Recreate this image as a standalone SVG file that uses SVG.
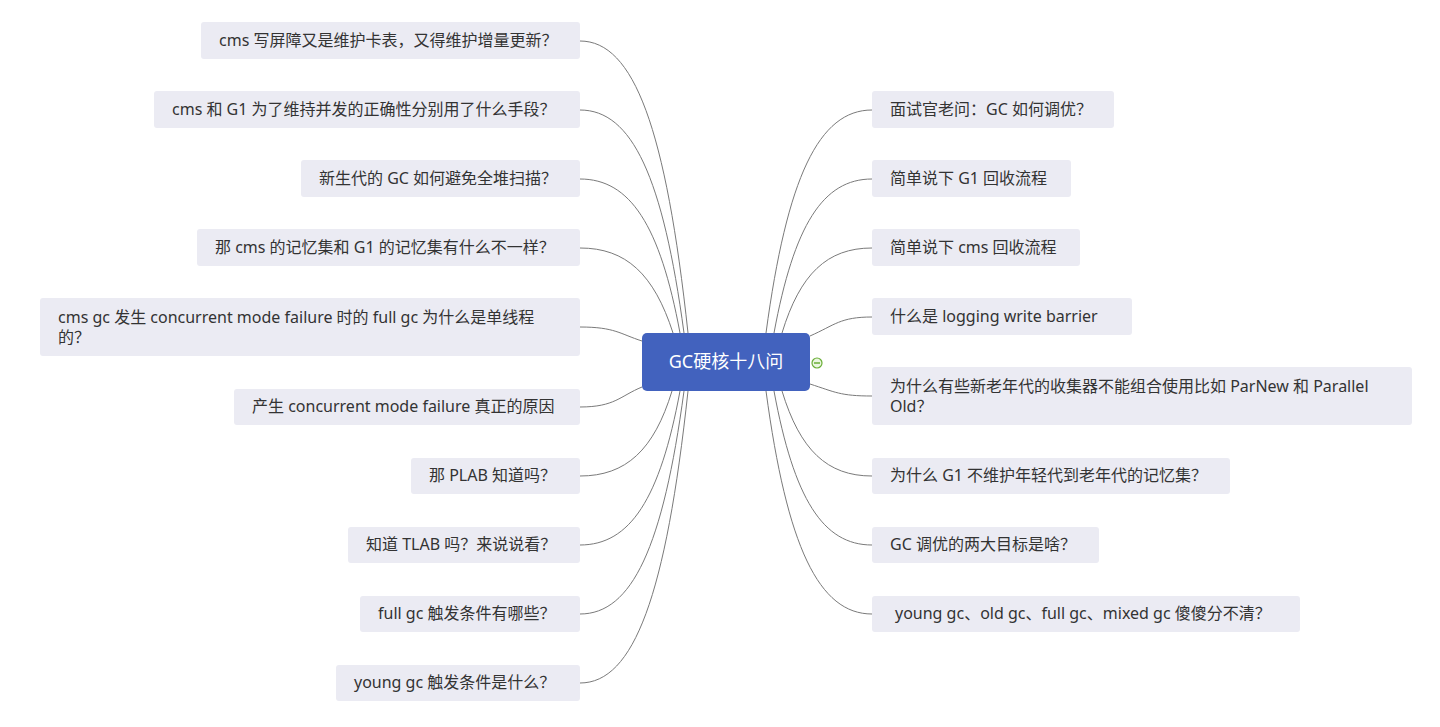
<svg xmlns="http://www.w3.org/2000/svg" width="1440" height="727" viewBox="0 0 1440 727">
<style>
.bg{fill:#ffffff}
.box{fill:#EBEBF3}
.t{font-family:"Noto Sans","Noto Sans CJK SC",sans-serif;font-size:16px;fill:#333333}
.ct{font-family:"Noto Sans","Noto Sans CJK SC",sans-serif;font-size:18px;fill:#ffffff}
.ln{fill:none;stroke:#7a7a7a;stroke-width:1}
</style>
<rect class="bg" x="0" y="0" width="1440" height="727"/>
<g id="connectors">
<path class="ln" d="M580,41 C634,41 666,129 688,333"/>
<path class="ln" d="M580,110 C632,110 663,177 684,333"/>
<path class="ln" d="M580,179 C630,179 660,225 680,333"/>
<path class="ln" d="M580,248 C626,248 654,274 673,333"/>
<path class="ln" d="M580,327 C615,327 620,334 642,341"/>
<path class="ln" d="M580,407 C615,407 620,396 642,387"/>
<path class="ln" d="M580,476 C626,476 654,450 672,391"/>
<path class="ln" d="M580,545 C630,545 660,499 680,391"/>
<path class="ln" d="M580,614 C632,614 663,547 684,391"/>
<path class="ln" d="M580,683 C634,683 666,595 688,391"/>
<path class="ln" d="M872,110 C819,110 787,177 766,333"/>
<path class="ln" d="M872,179 C823,179 794,225 774,333"/>
<path class="ln" d="M872,248 C827,248 800,274 782,333"/>
<path class="ln" d="M872,317 C840,317 835,325 810,336"/>
<path class="ln" d="M872,396 C840,396 835,392 810,384"/>
<path class="ln" d="M872,476 C827,476 800,450 782,391"/>
<path class="ln" d="M872,545 C823,545 794,499 774,391"/>
<path class="ln" d="M872,614 C819,614 787,547 766,391"/>
</g>
<g id="center">
<rect x="642" y="333" width="168" height="58" rx="5" fill="#4262BE"/>
<text class="ct" x="726" y="368" text-anchor="middle">GC硬核十八问</text>
<circle cx="817" cy="363" r="5" fill="#EAF6E0" stroke="#6AAE37" stroke-width="1.2"/>
<line x1="814" y1="363" x2="820" y2="363" stroke="#6AAE37" stroke-width="1.5"/>
</g>
<g id="l1"><rect class="box" x="201" y="22" width="379" height="37" rx="3"/><text class="t" x="219" y="46">cms 写屏障又是维护卡表，又得维护增量更新？</text></g>
<g id="l2"><rect class="box" x="154" y="91" width="426" height="37" rx="3"/><text class="t" x="172" y="115">cms 和 G1 为了维持并发的正确性分别用了什么手段？</text></g>
<g id="l3"><rect class="box" x="301" y="160" width="279" height="37" rx="3"/><text class="t" x="319" y="184">新生代的 GC 如何避免全堆扫描？</text></g>
<g id="l4"><rect class="box" x="197" y="229" width="383" height="37" rx="3"/><text class="t" x="215" y="253">那 cms 的记忆集和 G1 的记忆集有什么不一样？</text></g>
<g id="l5"><rect class="box" x="40" y="298" width="540" height="58" rx="3"/><text class="t" x="58" y="323">cms gc 发生 concurrent mode failure 时的 full gc 为什么是单线程</text><text class="t" x="58" y="343">的？</text></g>
<g id="l6"><rect class="box" x="234" y="389" width="346" height="36" rx="3"/><text class="t" x="252" y="412">产生 concurrent mode failure 真正的原因</text></g>
<g id="l7"><rect class="box" x="411" y="458" width="169" height="36" rx="3"/><text class="t" x="429" y="481">那 PLAB 知道吗？</text></g>
<g id="l8"><rect class="box" x="348" y="527" width="232" height="36" rx="3"/><text class="t" x="366" y="550">知道 TLAB 吗？来说说看？</text></g>
<g id="l9"><rect class="box" x="360" y="596" width="220" height="36" rx="3"/><text class="t" x="378" y="619">full gc 触发条件有哪些？</text></g>
<g id="l10"><rect class="box" x="336" y="665" width="244" height="36" rx="3"/><text class="t" x="354" y="688">young gc 触发条件是什么？</text></g>
<g id="r1"><rect class="box" x="872" y="91" width="242" height="37" rx="3"/><text class="t" x="890" y="115">面试官老问：GC 如何调优？</text></g>
<g id="r2"><rect class="box" x="872" y="160" width="199" height="37" rx="3"/><text class="t" x="890" y="184">简单说下 G1 回收流程</text></g>
<g id="r3"><rect class="box" x="872" y="229" width="208" height="37" rx="3"/><text class="t" x="890" y="253">简单说下 cms 回收流程</text></g>
<g id="r4"><rect class="box" x="872" y="298" width="260" height="37" rx="3"/><text class="t" x="890" y="322">什么是 logging write barrier</text></g>
<g id="r5"><rect class="box" x="872" y="367" width="540" height="58" rx="3"/><text class="t" x="890" y="392">为什么有些新老年代的收集器不能组合使用比如 ParNew 和 Parallel</text><text class="t" x="890" y="412">Old？</text></g>
<g id="r6"><rect class="box" x="872" y="458" width="358" height="36" rx="3"/><text class="t" x="890" y="481">为什么 G1 不维护年轻代到老年代的记忆集？</text></g>
<g id="r7"><rect class="box" x="872" y="527" width="227" height="36" rx="3"/><text class="t" x="890" y="550">GC 调优的两大目标是啥？</text></g>
<g id="r8"><rect class="box" x="872" y="596" width="428" height="36" rx="3"/><text class="t" x="895" y="619">young gc、old gc、full gc、mixed gc 傻傻分不清？</text></g>
</svg>
